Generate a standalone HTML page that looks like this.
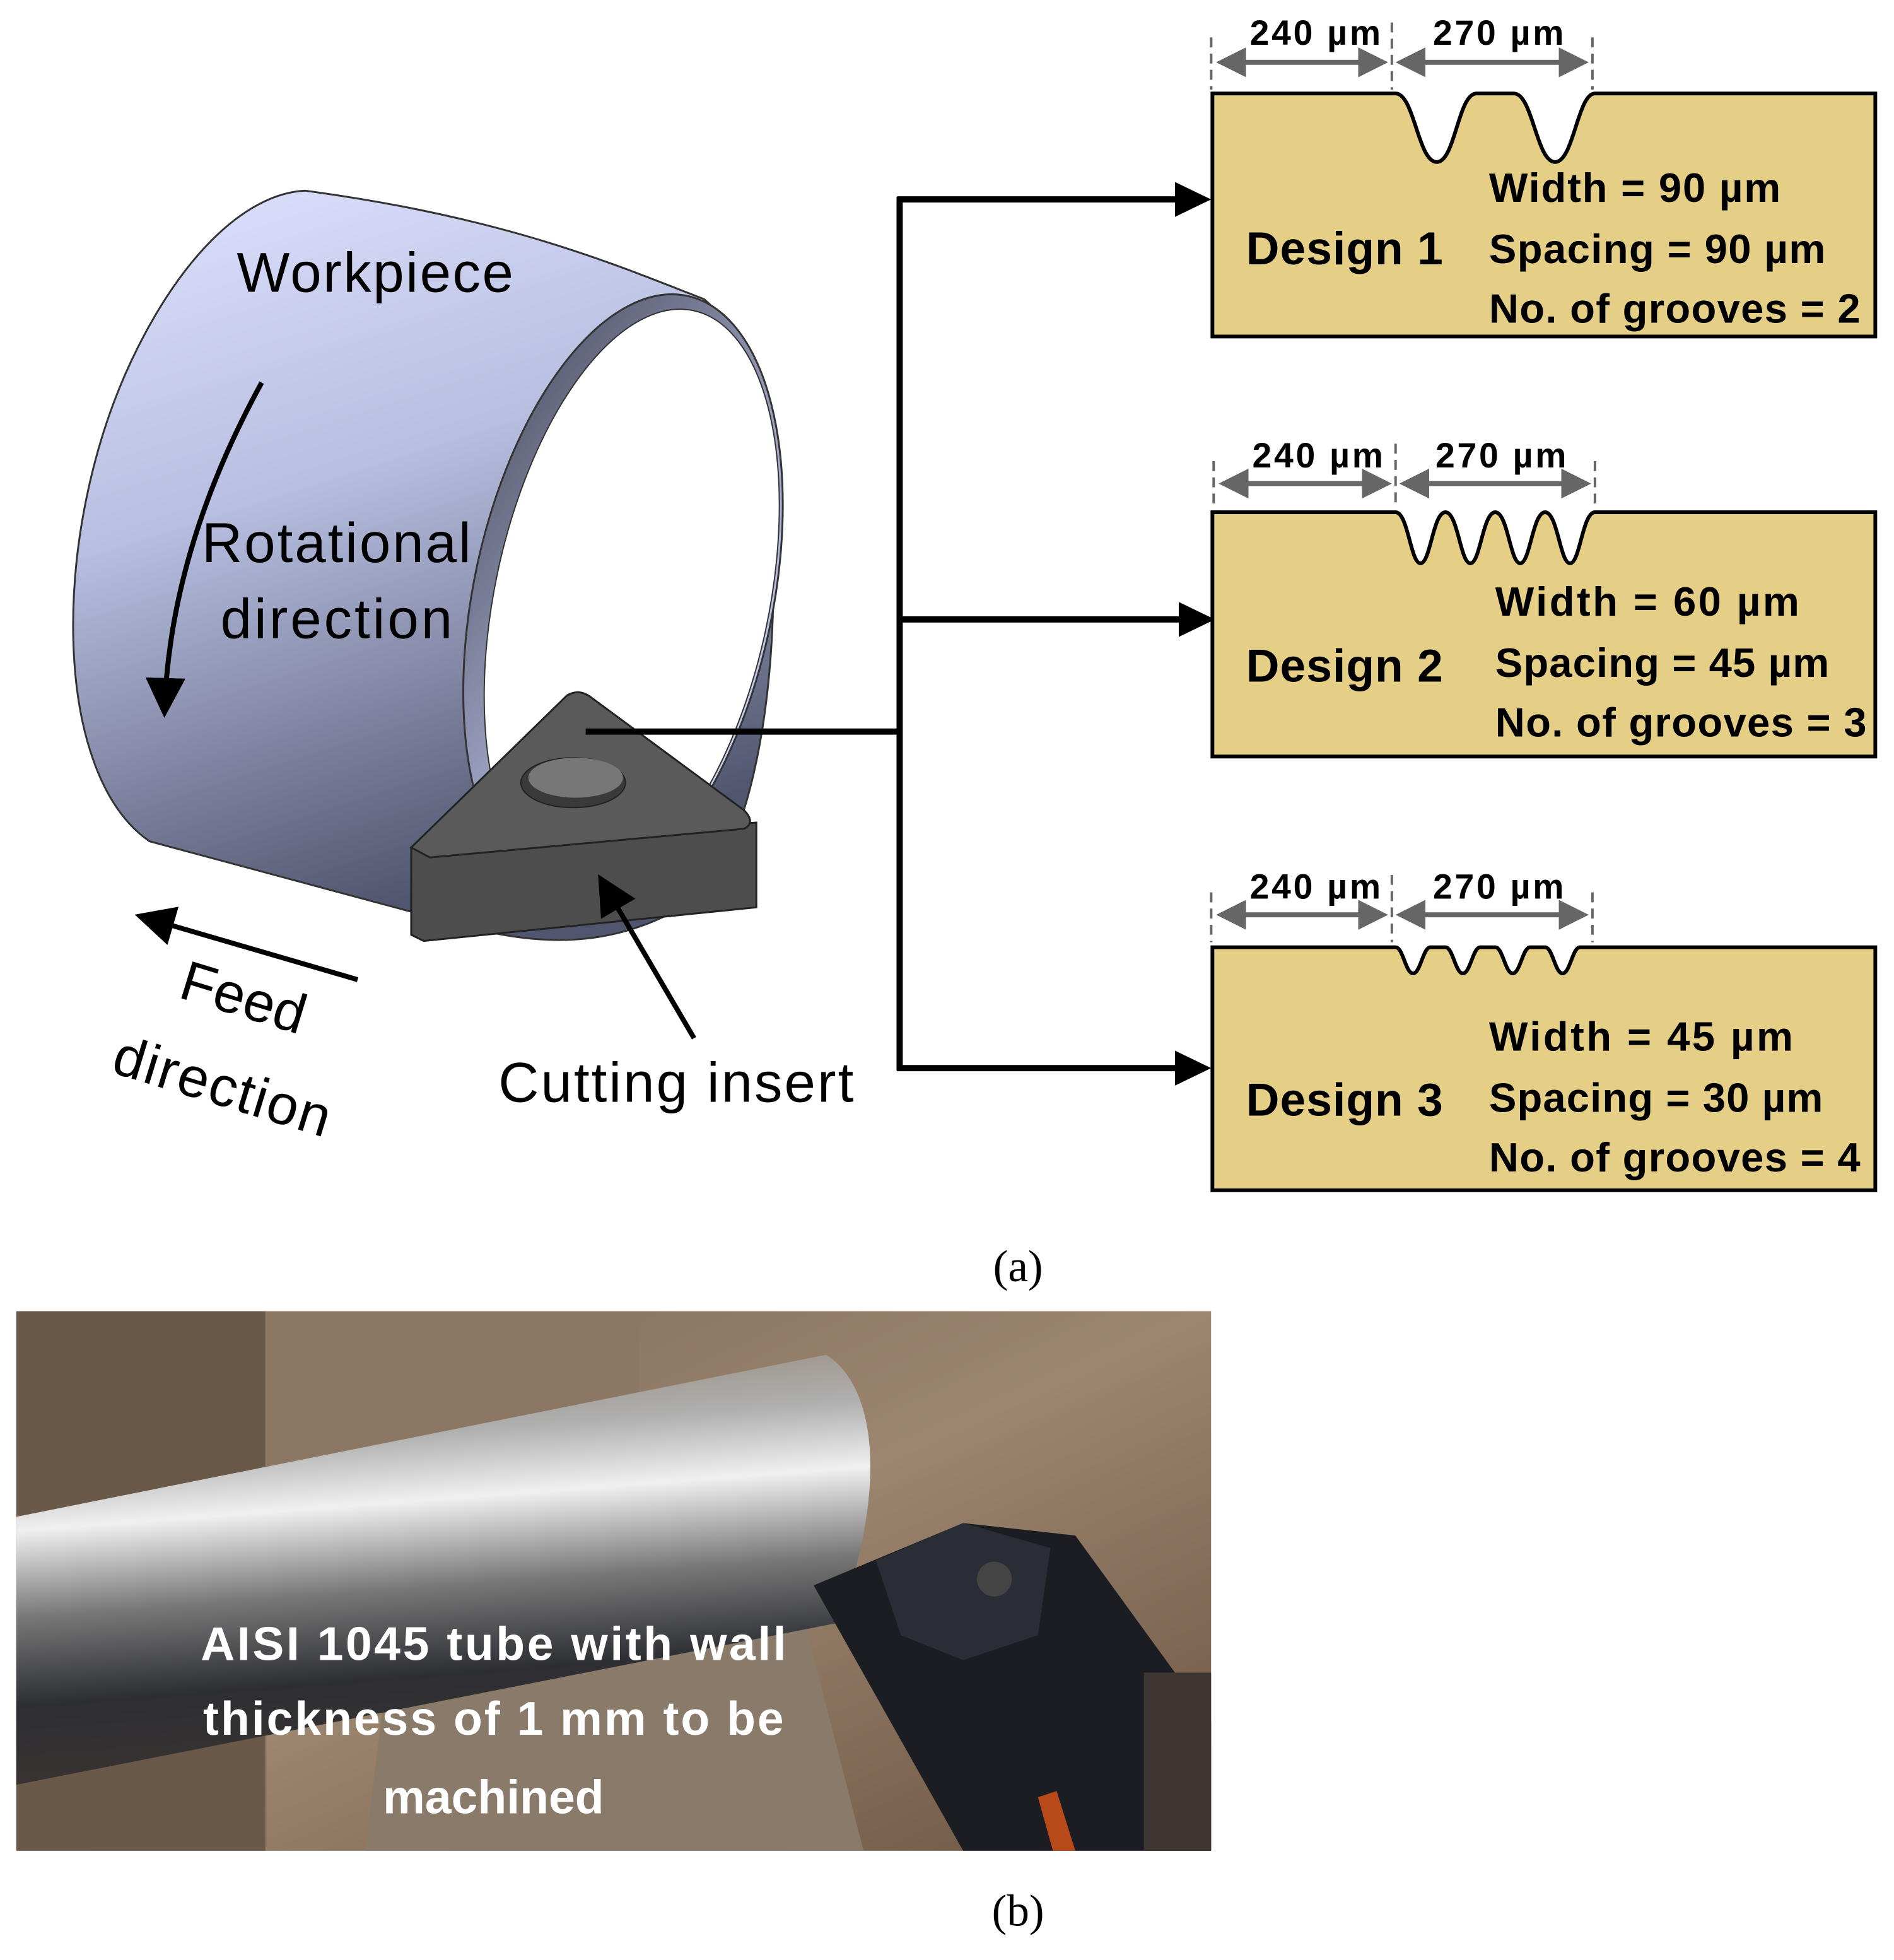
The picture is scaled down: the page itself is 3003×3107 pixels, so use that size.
<!DOCTYPE html>
<html><head><style>html,body{margin:0;padding:0;background:#fff}svg{display:block}</style></head><body>
<svg width="3003" height="3107" viewBox="0 0 1520 1572.6" preserveAspectRatio="none" xmlns="http://www.w3.org/2000/svg">
<defs>
<linearGradient id="cyl" x1="0" y1="0" x2="0.3" y2="1">
<stop offset="0" stop-color="#dfe3ff"/><stop offset="0.45" stop-color="#b8bee0"/><stop offset="1" stop-color="#50566e"/></linearGradient>
<linearGradient id="inn" x1="0" y1="0" x2="1" y2="1">
<stop offset="0" stop-color="#4a4e60"/><stop offset="0.6" stop-color="#a8aed0"/><stop offset="1" stop-color="#dfe3ff"/></linearGradient>
<linearGradient id="bar" x1="0" y1="0" x2="0.15" y2="1">
<stop offset="0" stop-color="#8d7d6a"/><stop offset="0.25" stop-color="#b0b0b0"/><stop offset="0.4" stop-color="#f0f0f0"/><stop offset="0.6" stop-color="#777"/><stop offset="0.8" stop-color="#2d2e33"/><stop offset="1" stop-color="#3a3432"/></linearGradient>
<linearGradient id="bg" x1="0" y1="0" x2="1" y2="1">
<stop offset="0" stop-color="#7a6654"/><stop offset="0.5" stop-color="#9c8670"/><stop offset="1" stop-color="#6b5440"/></linearGradient>
<marker id="ah" markerWidth="8" markerHeight="8" refX="7" refY="4" orient="auto" markerUnits="strokeWidth"><path d="M0,0 L8,4 L0,8z" fill="#000"/></marker>
<marker id="gh" markerWidth="6" markerHeight="6" refX="5" refY="3" orient="auto-start-reverse" markerUnits="strokeWidth"><path d="M0,0 L6,3 L0,6z" fill="#666"/></marker>
</defs>
<path d="M245,153 C410,175 500,215 565,240 C640,300 640,640 560,720 C500,760 440,760 380,745 L120,675 C40,620 40,420 110,280 C150,200 200,155 245,153 Z" fill="url(#cyl)" stroke="#333" stroke-width="1.5"/>
<ellipse cx="500" cy="480" rx="120" ry="248" transform="rotate(12 500 480)" fill="url(#inn)" stroke="#333" stroke-width="1.5"/>
<ellipse cx="507" cy="482" rx="110" ry="238" transform="rotate(12 507 482)" fill="#fff"/>
<ellipse cx="507" cy="482" rx="110" ry="238" transform="rotate(12 507 482)" fill="none" stroke="#333" stroke-width="1"/>
<path d="M330,680 L330,750 L340,755 L607,728 L607,660 Z" fill="#4d4d4d" stroke="#222" stroke-width="1.5"/>
<path d="M330,680 L455,558 Q465,552 475,560 L597,650 Q607,660 597,665 L345,688 Z" fill="#5a5a5a" stroke="#222" stroke-width="1.5"/>
<ellipse cx="460" cy="628" rx="42" ry="20" fill="#3a3a3a" stroke="#222"/>
<ellipse cx="462" cy="624" rx="38" ry="16" fill="#777"/>
<path d="M210,307 C170,380 135,470 132,572" fill="none" stroke="#000" stroke-width="4" marker-end="url(#ah)"/>
<line x1="287" y1="786" x2="112" y2="735" stroke="#000" stroke-width="4" marker-end="url(#ah)"/>
<line x1="557" y1="833" x2="482" y2="705" stroke="#000" stroke-width="4" marker-end="url(#ah)"/>
<g font-family="Liberation Sans, sans-serif" font-size="45" fill="#000">
<text x="190" y="234" textLength="222">Workpiece</text>
<text x="162" y="451" textLength="216">Rotational</text>
<text x="177" y="512" textLength="186">direction</text>
<text x="142" y="800" transform="rotate(17 142 800)">Feed</text>
<text x="88" y="860" transform="rotate(17 88 860)" textLength="180">direction</text>
<text x="400" y="884" textLength="285">Cutting insert</text>
</g>
<g stroke="#000" stroke-width="5" fill="none">
<line x1="470" y1="587" x2="724" y2="587"/>
<line x1="722" y1="158" x2="722" y2="859"/>
<line x1="720" y1="160" x2="945" y2="160"/>
<line x1="720" y1="497" x2="948" y2="497"/>
<line x1="720" y1="857" x2="945" y2="857"/>
</g>
<path d="M943,146 L972,160 L943,174z M946,483 L975,497 L946,511z M943,843 L972,857 L943,871z"/>
<g stroke="#000" stroke-width="3" fill="#e5cf87">
<path d="M973,75 L1120,75 C1135,75 1138,130 1153,130 C1168,130 1170,75 1185,75 L1215,75 C1230,75 1233,130 1248,130 C1263,130 1266,75 1280,75 L1505,75 L1505,270 L973,270 Z"/>
<path d="M973,411 L1120,411 C1130,411 1132,452 1140,452 C1148,452 1150,411 1160,411 C1170,411 1172,452 1180,452 C1188,452 1190,411 1200,411 C1210,411 1212,452 1220,452 C1228,452 1230,411 1240,411 C1250,411 1252,452 1260,452 C1268,452 1270,411 1280,411 L1505,411 L1505,607 L973,607 Z"/>
<path d="M973,760 L1120,760 C1126,760 1128,781 1134,781 C1140,781 1142,760 1148,760 L1160,760 C1166,760 1168,781 1174,781 C1180,781 1182,760 1188,760 L1200,760 C1206,760 1208,781 1214,781 C1220,781 1222,760 1228,760 L1240,760 C1246,760 1248,781 1254,781 C1260,781 1262,760 1268,760 L1280,760 L1505,760 L1505,955 L973,955 Z"/>
</g>
<g stroke="#666" stroke-width="2" stroke-dasharray="8,5">
<line x1="972" y1="30" x2="972" y2="72"/><line x1="1117" y1="18" x2="1117" y2="72"/><line x1="1278" y1="30" x2="1278" y2="72"/>
<line x1="974" y1="370" x2="974" y2="408"/><line x1="1120" y1="356" x2="1120" y2="408"/><line x1="1280" y1="370" x2="1280" y2="408"/>
<line x1="972" y1="716" x2="972" y2="756"/><line x1="1117" y1="702" x2="1117" y2="756"/><line x1="1278" y1="716" x2="1278" y2="756"/>
</g>
<g stroke="#666" stroke-width="4">
<line x1="980" y1="50" x2="1110" y2="50" marker-start="url(#gh)" marker-end="url(#gh)"/>
<line x1="1124" y1="50" x2="1271" y2="50" marker-start="url(#gh)" marker-end="url(#gh)"/>
<line x1="982" y1="388" x2="1113" y2="388" marker-start="url(#gh)" marker-end="url(#gh)"/>
<line x1="1127" y1="388" x2="1273" y2="388" marker-start="url(#gh)" marker-end="url(#gh)"/>
<line x1="980" y1="734" x2="1110" y2="734" marker-start="url(#gh)" marker-end="url(#gh)"/>
<line x1="1124" y1="734" x2="1271" y2="734" marker-start="url(#gh)" marker-end="url(#gh)"/>
</g>
<g font-family="Liberation Sans, sans-serif" font-weight="bold" fill="#000">
<g font-size="28">
<text x="1003" y="36" textLength="105">240 µm</text><text x="1150" y="36" textLength="105">270 µm</text>
<text x="1005" y="375" textLength="105">240 µm</text><text x="1152" y="375" textLength="105">270 µm</text>
<text x="1003" y="721" textLength="105">240 µm</text><text x="1150" y="721" textLength="105">270 µm</text>
</g>
<g font-size="37">
<text x="1000" y="212" textLength="158">Design 1</text><text x="1000" y="547" textLength="158">Design 2</text><text x="1000" y="895" textLength="158">Design 3</text>
</g>
<g font-size="33">
<text x="1195" y="162" textLength="234">Width = 90 µm</text><text x="1195" y="211" textLength="270">Spacing = 90 µm</text><text x="1195" y="259" textLength="298">No. of grooves = 2</text>
<text x="1200" y="494" textLength="244">Width = 60 µm</text><text x="1200" y="543" textLength="268">Spacing = 45 µm</text><text x="1200" y="591" textLength="298">No. of grooves = 3</text>
<text x="1195" y="843" textLength="244">Width = 45 µm</text><text x="1195" y="892" textLength="268">Spacing = 30 µm</text><text x="1195" y="940" textLength="298">No. of grooves = 4</text>
</g>
</g>
<text x="817" y="1028" font-family="Liberation Serif, serif" font-size="36" text-anchor="middle">(a)</text>
<svg x="13" y="1052" width="959" height="433" viewBox="0 0 959 433" preserveAspectRatio="none">
<rect width="959" height="433" fill="url(#bg)"/>
<rect x="0" y="0" width="200" height="433" fill="#6a5848"/>
<rect x="200" y="0" width="300" height="150" fill="#8b7764"/>
<path d="M300,270 L620,200 L680,433 L280,433 Z" fill="#8a7a6a"/>
<path d="M0,165 L650,35 C690,60 700,140 660,250 L0,380 Z" fill="url(#bar)"/>
<path d="M640,220 L760,170 L850,180 L959,330 L959,433 L760,433 Z" fill="#1c1d22"/>
<path d="M690,200 L760,170 L830,190 L820,260 L760,280 L710,260 Z" fill="#2a2d35"/>
<circle cx="785" cy="215" r="14" fill="#444"/>
<rect x="905" y="290" width="54" height="143" fill="#3e3630"/>
<path d="M820,390 L835,385 L850,433 L832,433 Z" fill="#b84a1a"/>
<g font-family="Liberation Sans, sans-serif" font-weight="bold" font-size="38" fill="#fff" text-anchor="middle">
<text x="383" y="280" textLength="470">AISI 1045 tube with wall</text>
<text x="383" y="340" textLength="466">thickness of 1 mm to be</text>
<text x="383" y="403">machined</text>
</g>
</svg>
<text x="817" y="1545" font-family="Liberation Serif, serif" font-size="36" text-anchor="middle">(b)</text>
</svg>
</body></html>
